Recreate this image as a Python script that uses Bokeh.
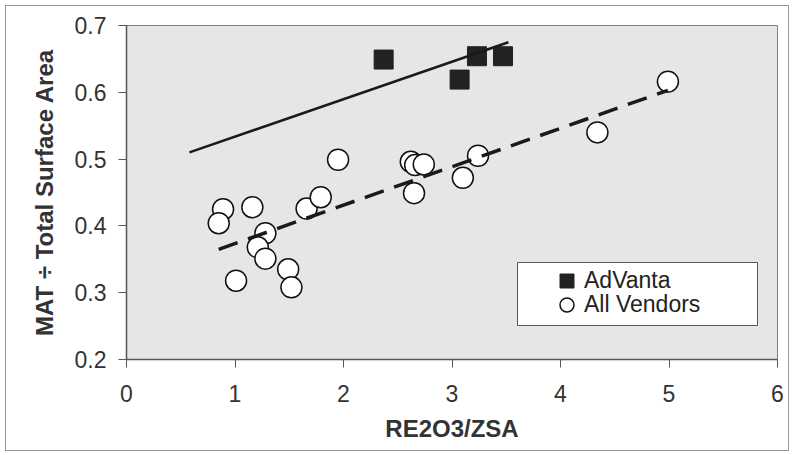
from bokeh.plotting import figure
from bokeh.models import Range1d, FixedTicker, Legend, LegendItem, BoxAnnotation
from bokeh.embed import file_html
from bokeh.resources import INLINE

# ---- data ----
x_ticks = [0, 1, 2, 3, 4, 5, 6]
y_ticks = [0.2, 0.3, 0.4, 0.5, 0.6, 0.7]

adv_x = [2.37, 3.07, 3.23, 3.47]
adv_y = [0.649, 0.619, 0.654, 0.654]

all_x = [0.89, 0.85, 1.16, 1.28, 1.21, 1.28, 1.01, 1.49, 1.52, 1.66, 1.79, 1.95,
         2.62, 2.66, 2.74, 2.65, 3.10, 3.24, 4.34, 4.99]
all_y = [0.425, 0.404, 0.428, 0.389, 0.368, 0.351, 0.318, 0.335, 0.308, 0.426, 0.443, 0.499,
         0.496, 0.491, 0.492, 0.449, 0.472, 0.505, 0.540, 0.616]

adv_trend_x = [0.58, 3.52]
adv_trend_y = [0.510, 0.675]
all_trend_x = [0.85, 4.99]
all_trend_y = [0.365, 0.603]

FONT = "Liberation Sans"

p = figure(width=784, height=446, output_backend="svg", toolbar_location=None,
           x_range=Range1d(0, 6), y_range=Range1d(0.2, 0.7),
           min_border_left=120, min_border_right=13, min_border_top=19, min_border_bottom=93)

p.background_fill_color = "#e6e6e6"
p.border_fill_color = "white"
p.outline_line_color = "#808080"
p.outline_line_width = 1
p.grid.visible = False

for ax in (p.xaxis, p.yaxis):
    ax.major_label_text_font = FONT
    ax.major_label_text_font_size = "23px"
    ax.major_label_text_color = "#333333"
    ax.axis_label_text_font = FONT
    ax.axis_label_text_font_size = "24px"
    ax.axis_label_text_font_style = "bold"
    ax.axis_label_text_color = "#333333"
    ax.axis_line_color = "#555555"
    ax.axis_line_width = 1.5
    ax.major_tick_line_color = "#555555"
    ax.major_tick_out = 8
    ax.major_tick_in = 0
    ax.minor_tick_out = 0
    ax.minor_tick_in = 0

p.xaxis.ticker = FixedTicker(ticks=x_ticks)
p.yaxis.ticker = FixedTicker(ticks=y_ticks)
p.xaxis.major_label_standoff = 17
p.yaxis.major_label_standoff = 12
p.xaxis.axis_label_standoff = 10
p.yaxis.axis_label_standoff = 14
p.xaxis.axis_label = "RE2O3/ZSA"
p.yaxis.axis_label = "MAT ÷ Total Surface Area"

r_adv = p.scatter(adv_x, adv_y, marker="square", size=19,
                  fill_color="#222222", line_color="#222222")
r_all = p.scatter(all_x, all_y, marker="circle", size=21,
                  fill_color="white", line_color="#111111", line_width=1.5)

p.line(adv_trend_x, adv_trend_y, line_color="#1a1a1a", line_width=2.5)
p.line(all_trend_x, all_trend_y, line_color="#1a1a1a", line_width=3.5, line_dash="20 11")

# legend frame
box = BoxAnnotation(left=391, right=631, bottom=34, top=97,
                    left_units="screen", right_units="screen",
                    bottom_units="screen", top_units="screen",
                    fill_color="white", fill_alpha=1.0,
                    line_color="#555555", line_width=1, line_alpha=1.0)
p.add_layout(box)

leg_common = dict(padding=0, margin=0, glyph_width=35, glyph_height=35,
                  label_standoff=0, label_text_font=FONT, label_text_font_size="23px",
                  label_text_color="#222222", border_line_alpha=0, background_fill_alpha=0)
leg1 = Legend(items=[LegendItem(label="AdVanta", renderers=[r_adv])],
              location=(423, 61), **leg_common)
leg2 = Legend(items=[LegendItem(label="All Vendors", renderers=[r_all])],
              location=(423, 37), **leg_common)
p.add_layout(leg1, "center")
p.add_layout(leg2, "center")

# scanned-page frame around the whole picture
p.styles = {"border": "1px solid #999999", "margin-left": "5px", "margin-top": "5px"}

open("out.html", "w").write(file_html(p, INLINE))
